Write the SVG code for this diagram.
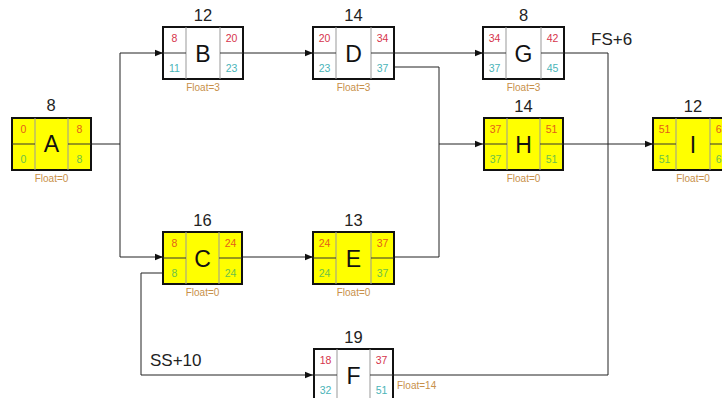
<svg xmlns="http://www.w3.org/2000/svg" width="722" height="398" viewBox="0 0 722 398">
<defs>
<style>
text{font-family:"Liberation Sans",Arial,sans-serif;}
.box{stroke:#111;stroke-width:2;}
.w{fill:#fff;}
.y{fill:#ffff00;}
.div{stroke:#999;stroke-width:1;fill:none;}
.half{stroke:#333;stroke-width:1;fill:none;}
.dur{font-size:16.5px;fill:#222;text-anchor:middle;}
.nm{font-size:23px;fill:#111;text-anchor:middle;}
.n{font-size:10.5px;text-anchor:middle;}
.tw{fill:#d6344b;}
.bw{fill:#4ab4b8;}
.ty{fill:#e2601a;}
.by{fill:#6cbf4a;}
.fl{font-size:10px;fill:#c8904a;text-anchor:middle;}
.lbl{font-size:17px;fill:#222;}
.c{stroke:#222;stroke-width:1;fill:none;}
.ca{marker-end:url(#ah);}
</style>
<marker id="ah" viewBox="0 0 10 10" refX="10" refY="5" markerWidth="8" markerHeight="8" markerUnits="userSpaceOnUse" orient="auto">
<path d="M0,1 L10,5 L0,9 Z" fill="#111"/>
</marker>
</defs>

<g id="connectors">
<path class="c ca" d="M91,144 H120 V53 H163"/>
<path class="c ca" d="M120,144 V257 H163"/>
<path class="c ca" d="M243,53 H313"/>
<path class="c ca" d="M242,257 H313"/>
<path class="c ca" d="M394,53 H483"/>
<path class="c ca" d="M394,67 H439 V144 H483"/>
<path class="c" d="M394,257 H439 V144"/>
<path class="c ca" d="M563,144 H653"/>
<path class="c" d="M564,53 H608 V375 H394"/>
<path class="c ca" d="M163,273 H141 V375 H313"/>
<text class="lbl" x="591" y="45">FS+6</text>
<text class="lbl" x="150" y="366">SS+10</text>
</g>

<g id="node-A">
<text class="dur" x="51" y="111">8</text>
<rect class="box y" x="12" y="118" width="79" height="52"/>
<path class="div" d="M35,118 V170 M68,118 V170"/>
<path class="half" d="M12,144 H35 M68,144 H91"/>
<text class="nm" x="51.5" y="152">A</text>
<text class="n ty" x="23.5" y="133">0</text>
<text class="n ty" x="79.5" y="133">8</text>
<text class="n by" x="23.5" y="163">0</text>
<text class="n by" x="79.5" y="163">8</text>
<text class="fl" x="51.5" y="182">Float=0</text>
</g>

<g id="node-B">
<text class="dur" x="203" y="21">12</text>
<rect class="box w" x="163" y="27" width="80" height="52"/>
<path class="div" d="M186,27 V79 M220,27 V79"/>
<path class="half" d="M163,53 H186 M220,53 H243"/>
<text class="nm" x="203" y="62">B</text>
<text class="n tw" x="174.5" y="42">8</text>
<text class="n tw" x="231.5" y="42">20</text>
<text class="n bw" x="174.5" y="72">11</text>
<text class="n bw" x="231.5" y="72">23</text>
<text class="fl" x="203" y="91">Float=3</text>
</g>

<g id="node-D">
<text class="dur" x="353.5" y="21">14</text>
<rect class="box w" x="313" y="27" width="81" height="52"/>
<path class="div" d="M336,27 V79 M371,27 V79"/>
<path class="half" d="M313,53 H336 M371,53 H394"/>
<text class="nm" x="353.5" y="62">D</text>
<text class="n tw" x="324.5" y="42">20</text>
<text class="n tw" x="382.5" y="42">34</text>
<text class="n bw" x="324.5" y="72">23</text>
<text class="n bw" x="382.5" y="72">37</text>
<text class="fl" x="353.5" y="91">Float=3</text>
</g>

<g id="node-G">
<text class="dur" x="523.5" y="21">8</text>
<rect class="box w" x="483" y="27" width="81" height="52"/>
<path class="div" d="M506,27 V79 M541,27 V79"/>
<path class="half" d="M483,53 H506 M541,53 H564"/>
<text class="nm" x="523.5" y="62">G</text>
<text class="n tw" x="494.5" y="42">34</text>
<text class="n tw" x="552.5" y="42">42</text>
<text class="n bw" x="494.5" y="72">37</text>
<text class="n bw" x="552.5" y="72">45</text>
<text class="fl" x="523.5" y="91">Float=3</text>
</g>

<g id="node-H">
<text class="dur" x="523.5" y="112">14</text>
<rect class="box y" x="484" y="118" width="79" height="52"/>
<path class="div" d="M507,118 V170 M540,118 V170"/>
<path class="half" d="M484,144 H507 M540,144 H563"/>
<text class="nm" x="523.5" y="153">H</text>
<text class="n ty" x="495.5" y="133">37</text>
<text class="n ty" x="551.5" y="133">51</text>
<text class="n by" x="495.5" y="163">37</text>
<text class="n by" x="551.5" y="163">51</text>
<text class="fl" x="523.5" y="182">Float=0</text>
</g>

<g id="node-I">
<text class="dur" x="693" y="112">12</text>
<rect class="box y" x="653" y="118" width="80" height="52"/>
<path class="div" d="M676,118 V170 M710,118 V170"/>
<path class="half" d="M653,144 H676 M710,144 H733"/>
<text class="nm" x="693" y="153">I</text>
<text class="n ty" x="664.5" y="133">51</text>
<text class="n ty" x="721.5" y="133">63</text>
<text class="n by" x="664.5" y="163">51</text>
<text class="n by" x="721.5" y="163">63</text>
<text class="fl" x="693" y="182">Float=0</text>
</g>

<g id="node-C">
<text class="dur" x="202.5" y="226">16</text>
<rect class="box y" x="163" y="232" width="79" height="52"/>
<path class="div" d="M186,232 V284 M219,232 V284"/>
<path class="half" d="M163,258 H186 M219,258 H242"/>
<text class="nm" x="202.5" y="267">C</text>
<text class="n ty" x="174.5" y="247">8</text>
<text class="n ty" x="230.5" y="247">24</text>
<text class="n by" x="174.5" y="277">8</text>
<text class="n by" x="230.5" y="277">24</text>
<text class="fl" x="202.5" y="296">Float=0</text>
</g>

<g id="node-E">
<text class="dur" x="353.5" y="226">13</text>
<rect class="box y" x="313" y="232" width="81" height="52"/>
<path class="div" d="M336,232 V284 M371,232 V284"/>
<path class="half" d="M313,258 H336 M371,258 H394"/>
<text class="nm" x="353.5" y="267">E</text>
<text class="n ty" x="324.5" y="247">24</text>
<text class="n ty" x="382.5" y="247">37</text>
<text class="n by" x="324.5" y="277">24</text>
<text class="n by" x="382.5" y="277">37</text>
<text class="fl" x="353.5" y="296">Float=0</text>
</g>

<g id="node-F">
<text class="dur" x="353.5" y="343">19</text>
<rect class="box w" x="314" y="349" width="79" height="52"/>
<path class="div" d="M337,349 V401 M370,349 V401"/>
<path class="half" d="M314,375 H337 M370,375 H393"/>
<text class="nm" x="353.5" y="384">F</text>
<text class="n tw" x="325.5" y="364">18</text>
<text class="n tw" x="381.5" y="364">37</text>
<text class="n bw" x="325.5" y="394">32</text>
<text class="n bw" x="381.5" y="394">51</text>
<text class="fl" x="397" y="389" style="text-anchor:start">Float=14</text>
</g>
</svg>
